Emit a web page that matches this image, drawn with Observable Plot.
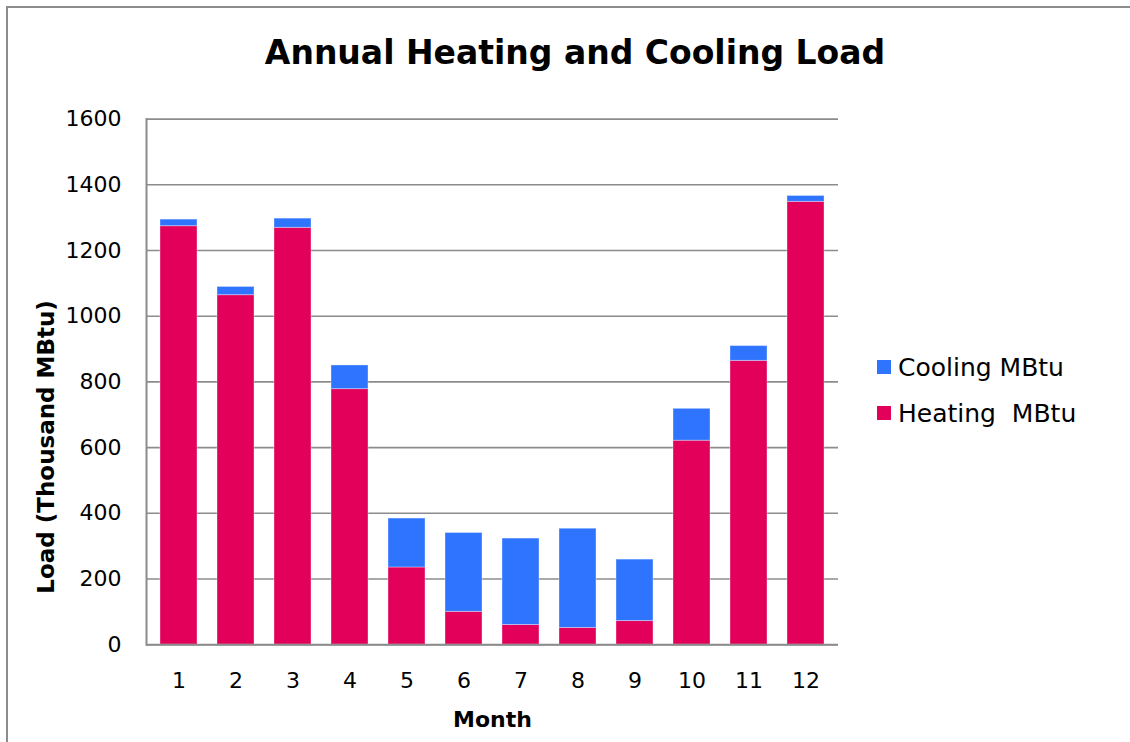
<!DOCTYPE html>
<html>
<head>
<meta charset="utf-8">
<script src="https://cdn.jsdelivr.net/npm/d3@7"></script>
<script src="https://cdn.jsdelivr.net/npm/@observablehq/plot@0.6"></script>
<style>
html, body { margin: 0; padding: 0; background: #fff; }
#wrap { position: relative; width: 1130px; height: 742px; overflow: hidden; font-family: "DejaVu Sans", sans-serif; color: #000; }
#border { position: absolute; left: 6px; top: 6px; width: 1300px; height: 900px; border-left: 2px solid #8c8c8c; border-top: 2px solid #8c8c8c; }
#title { position: absolute; left: 0; width: 1150px; top: 36px; text-align: center; font-size: 33px; font-weight: bold; line-height: 1; }
#chart { position: absolute; left: 0; top: 0; }
#legend { position: absolute; left: 877px; top: 350px; }
.item { display: flex; align-items: center; height: 34px; margin-bottom: 12px; font-size: 25px; white-space: pre; }
.sw { width: 14px; height: 14px; margin-right: 7px; }
</style>
</head>
<body>
<div id="wrap">
  <div id="border"></div>
  <div id="title">Annual Heating and Cooling Load</div>
  <div id="chart"></div>
  <div id="legend"></div>
</div>
<script>
const months = [1, 2, 3, 4, 5, 6, 7, 8, 9, 10, 11, 12];
const heating = [1274, 1064, 1269, 778, 235, 100, 60, 51, 72, 621, 864, 1348];
const cooling = [20, 25, 28, 72, 149, 240, 263, 302, 187, 97, 45, 18];
const series = ["Cooling MBtu", "Heating  MBtu"];
const colors = ["#2e74ff", "#e2005a"];
const yTicks = [0, 200, 400, 600, 800, 1000, 1200, 1400, 1600];

const data = [
  ...months.map((m, i) => ({month: m, series: series[1], value: heating[i]})),
  ...months.map((m, i) => ({month: m, series: series[0], value: cooling[i]}))
];

const chart = Plot.plot({
  width: 860,
  height: 742,
  marginTop: 118.6,
  marginBottom: 97.8,
  marginLeft: 146,
  marginRight: 22,
  style: {fontFamily: "DejaVu Sans", fontSize: "22px", color: "#000", background: "transparent"},
  x: {type: "band", domain: months, paddingInner: 0.353, paddingOuter: 0.1765, label: null},
  y: {domain: [0, 1600], label: null},
  color: {domain: series, range: colors},
  marks: [
    Plot.gridY(yTicks, {stroke: "#8c8c8c", strokeOpacity: 1, strokeWidth: 1.6}),
    Plot.barY(data, {x: "month", y: "value", fill: "series", stroke: "#fff", strokeOpacity: 0.35, strokeWidth: 1}),
    Plot.ruleY([0], {stroke: "#8c8c8c", strokeWidth: 2}),
    Plot.frame({anchor: "left", stroke: "#8c8c8c", strokeWidth: 2}),
    Plot.axisY(yTicks, {tickSize: 0, tickPadding: 25, label: null, fontSize: 22, tickFormat: d3.format("d")}),
    Plot.axisX(months, {tickSize: 0, tickPadding: 28, label: null, fontSize: 22}),
    Plot.text(["Month"], {text: d => d, frameAnchor: "bottom", lineAnchor: "middle", textAnchor: "middle", dy: 75, fontWeight: "bold", fontSize: 22, fill: "#000"}),
    Plot.text(["Load (Thousand MBtu)"], {text: d => d, frameAnchor: "left", textAnchor: "middle", lineAnchor: "middle", rotate: -90, dx: -99.5, dy: 65, fontWeight: "bold", fontSize: 23, fill: "#000"})
  ]
});
document.getElementById("chart").appendChild(chart);

const legend = document.getElementById("legend");
series.forEach((s, i) => {
  const item = document.createElement("div");
  item.className = "item";
  const sw = document.createElement("div");
  sw.className = "sw";
  sw.style.background = colors[i];
  const label = document.createElement("span");
  label.textContent = s;
  item.appendChild(sw);
  item.appendChild(label);
  legend.appendChild(item);
});
</script>
</body>
</html>
